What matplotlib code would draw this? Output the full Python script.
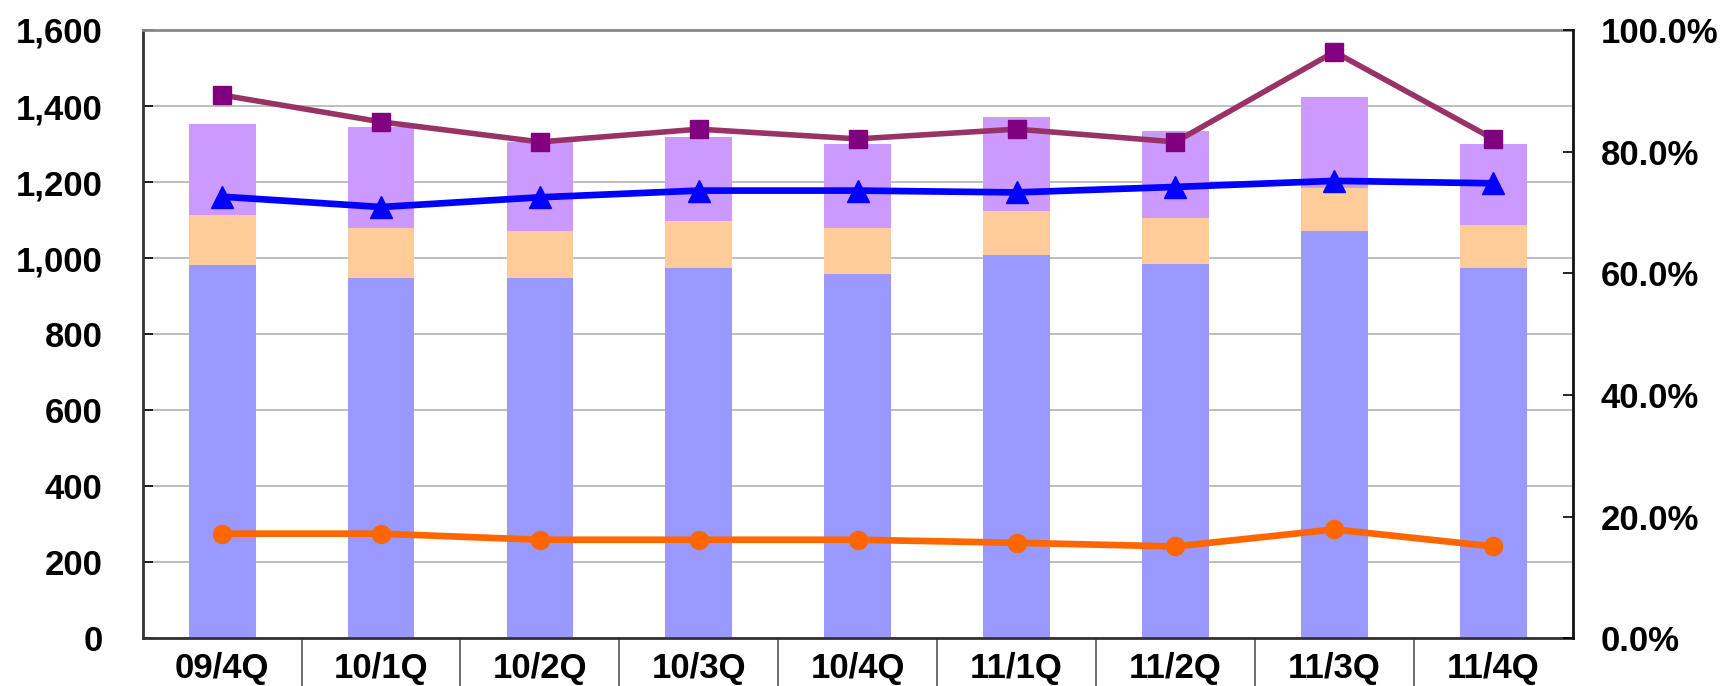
import numpy as np
import matplotlib.pyplot as plt
from matplotlib.ticker import FuncFormatter, MultipleLocator

plt.rcParams['font.family'] = ['Liberation Sans', 'DejaVu Sans']
plt.rcParams['font.weight'] = 'bold'

# Data
quarters = ['09/4Q', '10/1Q', '10/2Q', '10/3Q', '10/4Q', '11/1Q', '11/2Q', '11/3Q', '11/4Q']
seg_blue = [982, 948, 948, 974, 958, 1008, 984, 1071, 974]
seg_orange = [131, 131, 123, 124, 121, 116, 121, 114, 113]
seg_purple = [240, 266, 235, 220, 221, 247, 229, 239, 213]
ratio_square = [89.3, 84.9, 81.6, 83.7, 82.1, 83.7, 81.6, 96.4, 82.1]
ratio_triangle = [72.6, 70.9, 72.5, 73.6, 73.6, 73.3, 74.2, 75.2, 74.8]
ratio_circle = [17.2, 17.2, 16.2, 16.2, 16.2, 15.7, 15.1, 17.9, 15.1]

W, H = 1725, 686
fig = plt.figure(figsize=(W / 100, H / 100), dpi=100)
left, right, top, bottom = 142.7, 1572.7, 30, 638.3
ax = fig.add_axes([left / W, 1 - bottom / H, (right - left) / W, (bottom - top) / H])

x = np.arange(len(quarters))
bw = 0.42
b1 = np.array(seg_blue)
b2 = np.array(seg_orange)
b3 = np.array(seg_purple)
ax.bar(x, b1, width=bw, color='#9999FF', zorder=2)
ax.bar(x, b2, width=bw, bottom=b1, color='#FFCC99', zorder=2)
ax.bar(x, b3, width=bw, bottom=b1 + b2, color='#CC99FF', zorder=2)

ax.set_xlim(-0.5, len(quarters) - 0.5)
ax.set_ylim(0, 1600)
ax.yaxis.set_major_locator(MultipleLocator(200))
ax.yaxis.set_major_formatter(FuncFormatter(lambda v, p: f'{v:,.0f}'))
ax.grid(axis='y', color='#B4B4B4', lw=1.2, zorder=0)
ax.set_axisbelow(True)

ax.set_xticks(x)
ax.set_xticklabels(quarters)
ax.set_xticks(np.arange(0.5, len(quarters) - 1, 1), minor=True)
ax.tick_params(axis='x', which='major', length=0, pad=10, labelsize=25)
ax.tick_params(axis='x', which='minor', direction='out', length=40, width=1.2, color='#555555')
ax.tick_params(axis='y', direction='in', length=7, width=1.2, pad=29, labelsize=25)

for s in ['left', 'bottom']:
    ax.spines[s].set_color('#333333')
    ax.spines[s].set_linewidth(2)
ax.spines['top'].set_color('#888888')
ax.spines['top'].set_linewidth(2)
ax.spines['right'].set_visible(False)

ax2 = ax.twinx()
ax2.set_ylim(0, 100)
ax2.yaxis.set_major_locator(MultipleLocator(20))
ax2.yaxis.set_major_formatter(FuncFormatter(lambda v, p: f'{v:.1f}%'))
ax2.tick_params(axis='y', direction='in', length=7, width=1.2, pad=20, labelsize=25)
ax2.spines['right'].set_color('#111111')
ax2.spines['right'].set_linewidth(2)
for s in ['left', 'top', 'bottom']:
    ax2.spines[s].set_visible(False)

ax2.plot(x, ratio_square, color='#993366', lw=4, marker='s', ms=13,
         mfc='#800080', mec='#800080', zorder=3)
ax2.plot(x, ratio_triangle, color='#0000FF', lw=4.8, marker='^', ms=15.5,
         mfc='#0000FF', mec='#0000FF', zorder=3)
ax2.plot(x, ratio_circle, color='#FF6600', lw=4.8, marker='o', ms=13,
         mfc='#FF6600', mec='#FF6600', zorder=3)

fig.savefig('out.png', dpi=100)
